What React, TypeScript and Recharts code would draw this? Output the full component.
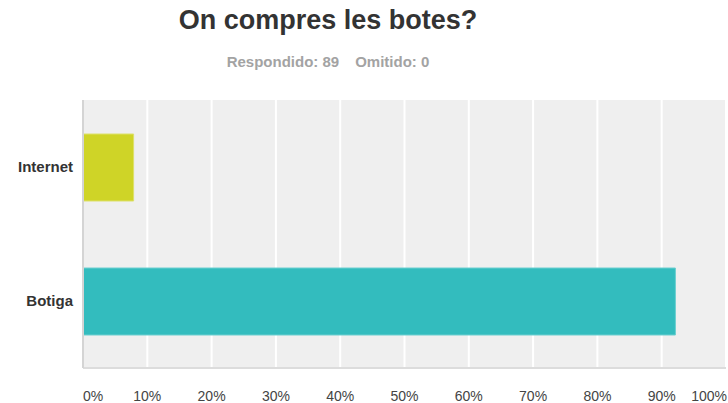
import React from "react"
import {
    BarChart,
    Bar,
    XAxis,
    YAxis,
    CartesianGrid,
    Cell,
} from "recharts"

const categories = ["Internet", "Botiga"]
const percentValues = [7.87, 92.13]
const barColors = ["#cfd427", "#33bcbe"]
const barEdges = ["#dde16a", "#6ccfd0"]
const xTicks = [0, 10, 20, 30, 40, 50, 60, 70, 80, 90, 100]

const title = "On compres les botes?"
const answeredLabel = "Respondido: 89"
const skippedLabel = "Omitido: 0"

const data = categories.map((name, i) => ({
    name,
    value: percentValues[i],
}))

const FONT = "'Liberation Sans', Arial, sans-serif"

function PercentTick(props: any) {
    const { x, y, payload } = props
    const v = payload.value
    let anchor: "start" | "middle" | "end" = "middle"
    let dx = 0
    if (v === 0) anchor = "start"
    if (v === 100) {
        anchor = "end"
        dx = 1
    }
    return (
        <text
            x={x + dx}
            y={y}
            dy="0.71em"
            textAnchor={anchor}
            fill="#444"
            fontSize={14}
            fontFamily={FONT}
        >
            {v}%
        </text>
    )
}

export default function App() {
    return (
        <div
            style={{
                position: "absolute",
                left: 0,
                top: 0,
                width: 728,
                height: 403,
                background: "#fff",
                overflow: "hidden",
                fontFamily: FONT,
            }}
        >
            <div
                style={{
                    position: "absolute",
                    left: 0,
                    width: 656,
                    top: 4,
                    textAlign: "center",
                    fontSize: 27,
                    fontWeight: "bold",
                    color: "#333",
                    lineHeight: "32px",
                }}
            >
                {title}
            </div>

            <div
                style={{
                    position: "absolute",
                    left: 0,
                    width: 656,
                    top: 53,
                    textAlign: "center",
                    fontSize: 15,
                    fontWeight: "bold",
                    color: "#a3a3a3",
                    lineHeight: "18px",
                }}
            >
                <span>{answeredLabel}</span>
                <span style={{ marginLeft: 16 }}>{skippedLabel}</span>
            </div>

            <div style={{ position: "absolute", left: 0, top: 0 }}>
                <BarChart
                    width={728}
                    height={403}
                    data={data}
                    layout="vertical"
                    margin={{ top: 100, right: 2, bottom: 0, left: 0 }}
                >
                    <CartesianGrid
                        horizontal={false}
                        vertical={true}
                        stroke="#ffffff"
                        strokeWidth={2}
                        fill="#efefef"
                        fillOpacity={1}
                    />

                    <XAxis
                        type="number"
                        domain={[0, 100]}
                        ticks={xTicks}
                        height={35}
                        tickLine={false}
                        tickMargin={17}
                        axisLine={{ stroke: "#dcdcdc", strokeWidth: 2 }}
                        tick={<PercentTick />}
                        interval={0}
                    />

                    <YAxis
                        type="category"
                        dataKey="name"
                        width={83}
                        tickLine={false}
                        tickSize={0}
                        tickMargin={10}
                        axisLine={{ stroke: "#d4d4d4", strokeWidth: 2 }}
                        tick={{
                            fill: "#333",
                            fontSize: 15,
                            fontWeight: "bold",
                            fontFamily: FONT,
                        }}
                    />

                    <Bar
                        dataKey="value"
                        barSize={67}
                        isAnimationActive={false}
                    >
                        {data.map((d, i) => (
                            <Cell
                                key={d.name}
                                fill={barColors[i]}
                                stroke={barEdges[i]}
                                strokeWidth={1}
                            />
                        ))}
                    </Bar>
                </BarChart>
            </div>
        </div>
    )
}
